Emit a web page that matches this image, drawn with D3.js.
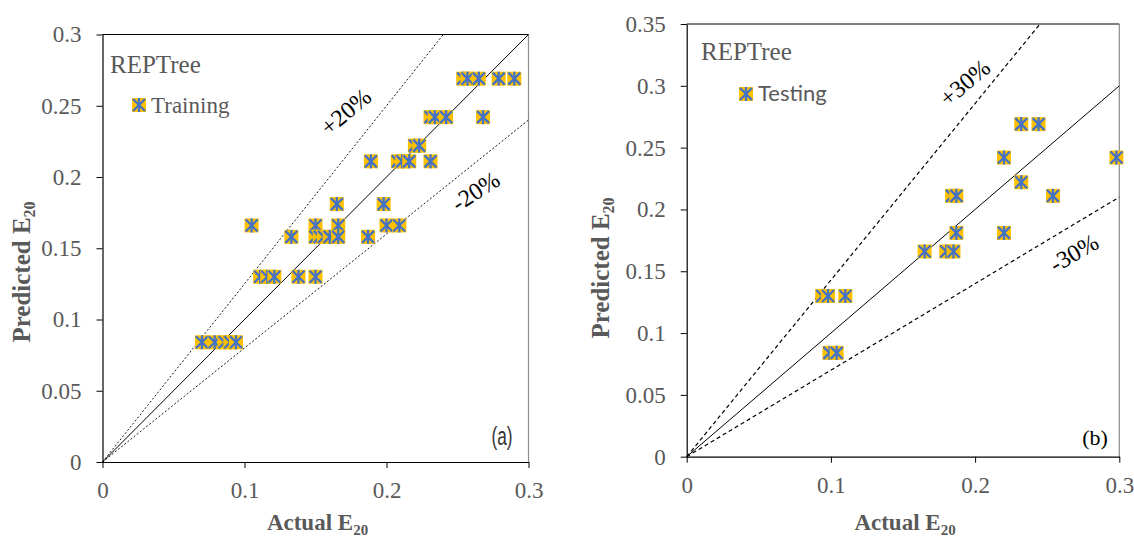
<!DOCTYPE html>
<html>
<head>
<meta charset="utf-8">
<script src="https://cdn.jsdelivr.net/npm/d3@7"></script>
<style>
  html, body { margin: 0; padding: 0; background: #fff; }
  svg { display: block; }
</style>
</head>
<body>
<svg id="chart" width="1134" height="537"></svg>
<script>
// ---- Training set (panel a): actual vs predicted E20 ----
const trainActual = [
  0.254, 0.257, 0.265, 0.279, 0.290,
  0.231, 0.234, 0.242, 0.268,
  0.220, 0.223,
  0.189, 0.208, 0.211, 0.216, 0.231,
  0.165, 0.198,
  0.105, 0.150, 0.166, 0.200, 0.209,
  0.133, 0.150, 0.153, 0.156, 0.160, 0.166, 0.187,
  0.111, 0.116, 0.121, 0.138, 0.150,
  0.070, 0.079, 0.086, 0.090, 0.094
];
const trainPred = [
  0.269, 0.269, 0.269, 0.269, 0.269,
  0.242, 0.242, 0.242, 0.242,
  0.222, 0.222,
  0.211, 0.211, 0.211, 0.211, 0.211,
  0.181, 0.181,
  0.166, 0.166, 0.166, 0.166, 0.166,
  0.158, 0.158, 0.158, 0.158, 0.158, 0.158, 0.158,
  0.130, 0.130, 0.130, 0.130, 0.130,
  0.084, 0.084, 0.084, 0.084, 0.084
];

// ---- Testing set (panel b) ----
const testActual = [
  0.232, 0.244,
  0.220, 0.298,
  0.232,
  0.184, 0.187, 0.254,
  0.187, 0.220,
  0.165, 0.180, 0.185,
  0.094, 0.098, 0.110,
  0.099, 0.104
];
const testPred = [
  0.269, 0.269,
  0.242, 0.242,
  0.222,
  0.211, 0.211, 0.211,
  0.181, 0.181,
  0.166, 0.166, 0.166,
  0.130, 0.130, 0.130,
  0.084, 0.084
];

// ---- Axis ticks ----
const xTicks = [0, 0.1, 0.2, 0.3];
const yTicksA = [0, 0.05, 0.1, 0.15, 0.2, 0.25, 0.3];
const yTicksB = [0, 0.05, 0.1, 0.15, 0.2, 0.25, 0.3, 0.35];

// ---- Error-band slopes (predicted / actual) ----
const bandsA = [1 / 0.8, 0.8];
const bandsB = [1 / 0.7, 0.7];

const svg = d3.select("#chart");
const GOLD = "#FFC000", BLUE = "#4472C4", GREY = "#595959";
const SERIF = '"Liberation Serif", "Times New Roman", serif';
const fmt = d => d === 0 ? "0" : String(+d.toFixed(2));

function marker(g, size) {
  const h = size / 2, a = h - 1;
  g.append("rect").attr("x", -h).attr("y", -h).attr("width", size).attr("height", size).attr("fill", GOLD);
  const s = g.append("g").attr("stroke", BLUE).attr("stroke-width", 2.3);
  s.append("line").attr("x1", -a).attr("y1", -a).attr("x2", a).attr("y2", a);
  s.append("line").attr("x1", -a).attr("y1", a).attr("x2", a).attr("y2", -a);
  s.append("line").attr("x1", 0).attr("y1", -h).attr("x2", 0).attr("y2", h);
}

function panel(cfg) {
  const x = d3.scaleLinear().domain([0, 0.3]).range(cfg.xr);
  const y = d3.scaleLinear().domain([0, cfg.ymax]).range(cfg.yr);
  const g = svg.append("g");

  // frame: top black, right grey
  g.append("line").attr("x1", x(0)).attr("x2", x(0.3)).attr("y1", y(cfg.ymax)).attr("y2", y(cfg.ymax))
    .attr("stroke", "#000").attr("stroke-width", 1);
  g.append("line").attr("x1", x(0.3)).attr("x2", x(0.3)).attr("y1", y(0)).attr("y2", y(cfg.ymax))
    .attr("stroke", "#8c8c8c").attr("stroke-width", 1.2);

  // axes
  const ax = g.append("g").attr("transform", `translate(0,${y(0)})`)
    .call(d3.axisBottom(x).tickValues(xTicks).tickFormat(fmt).tickSize(6).tickSizeOuter(0).tickPadding(14));
  const ay = g.append("g").attr("transform", `translate(${x(0)},0)`)
    .call(d3.axisLeft(y).tickValues(cfg.yTicks).tickFormat(fmt).tickSize(6).tickSizeOuter(0).tickPadding(15));
  [ax, ay].forEach(a => {
    a.attr("font-family", SERIF).attr("font-size", 23);
    a.select(".domain").attr("stroke", "#000").attr("stroke-width", 1.2);
    a.selectAll(".tick line").attr("stroke", "#000").attr("stroke-width", 1);
    a.selectAll(".tick text").attr("fill", GREY).style("font-family", SERIF).style("font-size", "23px");
  });

  // reference lines
  const line = (k, dash, w) => {
    const xe = Math.min(0.3, cfg.ymax / k);
    g.append("line").attr("x1", x(0)).attr("y1", y(0)).attr("x2", x(xe)).attr("y2", y(k * xe))
      .attr("stroke", "#000").attr("stroke-width", w).attr("stroke-dasharray", dash);
  };
  line(1, null, 1);
  cfg.bands.forEach(k => line(k, cfg.dash, cfg.dashW));

  // band labels
  cfg.bandLabels.forEach(b => {
    g.append("text").attr("text-anchor", "middle")
      .attr("transform", `translate(${b.x},${b.y}) rotate(${b.r})`)
      .style("font-family", SERIF).style("font-size", "24px").attr("fill", "#000").text(b.t);
  });

  // points
  const pts = cfg.ax.map((v, i) => [v, cfg.pr[i]]);
  g.append("g").selectAll("g").data(pts).join("g")
    .attr("transform", d => `translate(${x(d[0])},${y(d[1])})`)
    .each(function () { marker(d3.select(this), 14); });

  // title
  g.append("text").attr("x", cfg.title[0]).attr("y", cfg.title[1])
    .style("font-family", SERIF).style("font-size", "25px").attr("fill", GREY).text("REPTree");

  // legend
  const lg = g.append("g").attr("transform", `translate(${cfg.leg[0]},${cfg.leg[1]})`);
  marker(lg, 14);
  lg.append("text").attr("x", 12).attr("y", cfg.legDy).style("font-family", cfg.legFont)
    .style("font-size", cfg.legSize).attr("fill", GREY).text(cfg.legText);

  // axis titles
  const xt = g.append("text").attr("text-anchor", "middle")
    .attr("x", (cfg.xr[0] + cfg.xr[1]) / 2 + 2).attr("y", 530)
    .style("font-family", SERIF).style("font-size", "23px").style("font-weight", "bold").attr("fill", GREY);
  xt.append("tspan").text("Actual E");
  xt.append("tspan").attr("dy", 5).style("font-size", "15px").text("20");

  const yt = g.append("text").attr("text-anchor", "middle")
    .attr("transform", `translate(${cfg.yLabelX},${cfg.yLabelY}) rotate(-90)`)
    .style("font-family", SERIF).style("font-size", "25px").style("font-weight", "bold").attr("fill", GREY);
  yt.append("tspan").text("Predicted E");
  yt.append("tspan").attr("dy", 5).style("font-size", "16px").text("20");

  cfg.tag(g);
}

panel({
  xr: [102.5, 528.5], yr: [462, 34.5], ymax: 0.3, yTicks: yTicksA,
  ax: trainActual, pr: trainPred, bands: bandsA, dash: "2,2", dashW: 0.9,
  bandLabels: [{ t: "+20%", x: 351, y: 118, r: -40 }, { t: "-20%", x: 480, y: 198, r: -33 }],
  title: [110, 73], leg: [139, 105], legDy: 8, legText: "Training",
  legFont: SERIF, legSize: "23px",
  yLabelX: 30, yLabelY: 272,
  tag: g => g.append("text").attr("transform", "translate(502,445) scale(0.72,1.05)")
    .attr("text-anchor", "middle").style("font-family", '"Liberation Sans", Arial, sans-serif')
    .style("font-size", "24px").attr("fill", "#333").text("(a)")
});

panel({
  xr: [686.7, 1119.3], yr: [456.7, 24], ymax: 0.35, yTicks: yTicksB,
  ax: testActual, pr: testPred, bands: bandsB, dash: "4,3", dashW: 1.2,
  bandLabels: [{ t: "+30%", x: 970, y: 89, r: -40 }, { t: "-30%", x: 1078, y: 260, r: -30 }],
  title: [701, 60], leg: [746, 94], legDy: 7, legText: "Testing",
  legFont: 'Lato, "Open Sans", sans-serif', legSize: "22px",
  yLabelX: 609, yLabelY: 268,
  tag: g => g.append("text").attr("x", 1095).attr("y", 445)
    .attr("text-anchor", "middle").style("font-family", SERIF).style("font-size", "22px").attr("fill", "#000").text("(b)")
});
</script>
</body>
</html>
